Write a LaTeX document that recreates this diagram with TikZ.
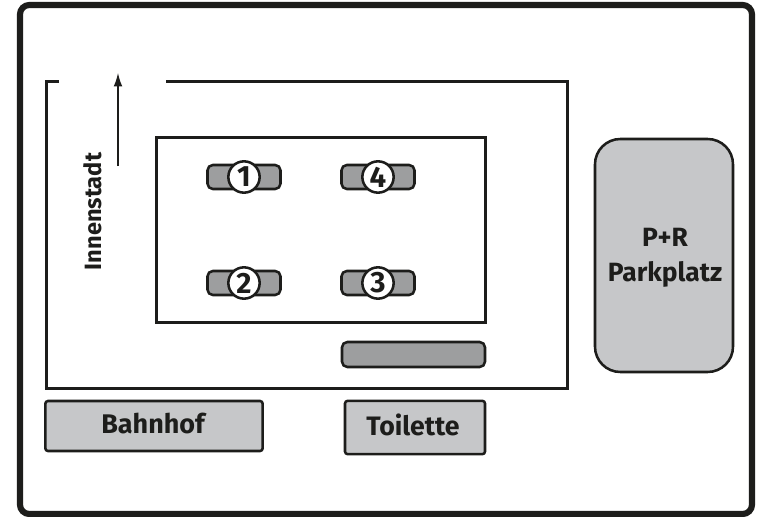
\documentclass[tikz,border=0pt]{standalone}
\usepackage{fontspec}
\setmainfont{Fira Sans}
\usetikzlibrary{arrows.meta}
\definecolor{ink}{HTML}{1D1D1B}
\definecolor{darkgrey}{HTML}{9D9E9F}
\definecolor{lightgrey}{HTML}{C6C7C9}
\tikzset{
  x=0.75pt,y=-0.75pt,
  road/.style={draw=ink,line width=2.25pt,line cap=butt,line join=miter},
  bar/.style={draw=ink,line width=1.9pt,fill=darkgrey,rounded corners=4pt},
  building/.style={draw=ink,line width=1.9pt,fill=lightgrey,rounded corners=2pt},
  numdisc/.style={circle,draw=ink,line width=1.9pt,fill=white,minimum size=23.5pt,inner sep=0pt,font=\fontsize{22}{22}\selectfont\bfseries,text=ink},
  label/.style={text=ink,font=\fontsize{17.7}{20}\selectfont\bfseries,align=center,inner sep=0pt},
}
\begin{document}
\begin{tikzpicture}
\useasboundingbox (0,0) rectangle (771,517);
\fill[white] (0,0) rectangle (771,517);
\draw[draw=ink,line width=4.6pt,rounded corners=7pt] (20,5) rectangle (752,514);
% road loop with gap
\draw[road] (59,82) -- (46.5,82) -- (46.5,388) -- (567.5,388) -- (567.5,82) -- (166,82);
% inner block
\draw[road] (156,137) rectangle (485.5,322);
% arrow
\coordinate (arrowstart) at (118,166);
\coordinate (arrowend) at (118,73);
\draw[draw=ink,line width=1pt,-{Latex[length=10pt,width=6.5pt]}] (arrowstart) -- (arrowend);
\node[label,rotate=90] (city) at (92.5,211.5) {Innenstadt};
% stands
\foreach \nm/\cx/\cy/\num in {a/244/177/1,b/378/177/4,c/244/283/2,d/378/283/3}{
  \draw[bar] (\cx-36.5,\cy-12) rectangle (\cx+36.5,\cy+12);
  \node[numdisc] (\nm) at (\cx,\cy) {\num};
}
\draw[bar] (342,342) rectangle (485,367);
% buildings
\node[building,minimum width=163pt,minimum height=37.5pt,inner sep=0pt] (bahnhof) at (154,426) {};
\node[label,font=\fontsize{20.2}{20}\selectfont\bfseries] at (153,423.5) {Bahnhof};
\node[building,minimum width=105pt,minimum height=40pt,inner sep=0pt] (toilette) at (415,427.5) {};
\node[label,font=\fontsize{20}{20}\selectfont\bfseries] at (413,424.5) {Toilette};
\draw[draw=ink,line width=1.9pt,fill=lightgrey,rounded corners=19pt] (595,139) rectangle (733,372);
\node[label,font=\fontsize{19.8}{26.5}\selectfont\bfseries] (park) at (665,258) {P+R\\Parkplatz};
\end{tikzpicture}
\end{document}
